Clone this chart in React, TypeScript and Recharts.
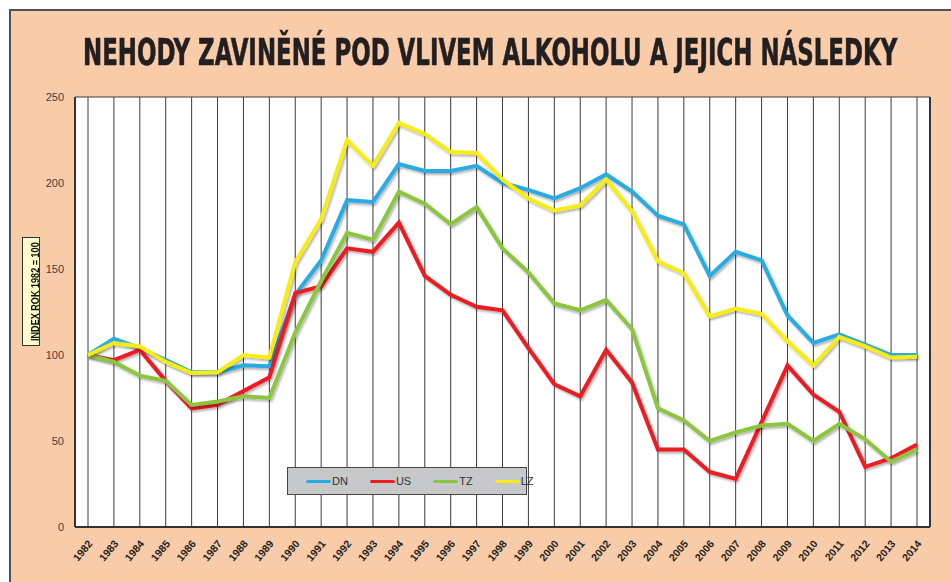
import React, { useLayoutEffect, useRef, useState } from 'react';
import { LineChart, Line, XAxis, YAxis, CartesianGrid } from 'recharts';

const years = [
  '1982', '1983', '1984', '1985', '1986', '1987', '1988', '1989', '1990', '1991', '1992',
  '1993', '1994', '1995', '1996', '1997', '1998', '1999', '2000', '2001', '2002', '2003',
  '2004', '2005', '2006', '2007', '2008', '2009', '2010', '2011', '2012', '2013', '2014',
];
const dn = [100, 109.5, 104, 97, 90, 90, 94, 93.5, 135, 155, 190, 189, 211, 207, 207, 210, 200, 196, 191, 197, 205, 195, 181, 176, 146, 160, 155, 123, 107, 112, 106, 100, 100];
const us = [100, 97, 103, 85, 69, 71, 79, 87, 136, 140, 162, 160, 177, 146, 135, 128, 126, 104, 83, 76, 103, 84, 45, 45, 32, 28, 61, 94, 77, 67, 35, 40, 48];
const tz = [100, 96, 88, 85, 71, 73, 76, 75, 113, 143, 171, 167, 195, 188, 176, 186, 162, 148, 130, 126, 132, 115, 69, 62, 50, 55, 59, 60, 50, 60, 51, 38, 45];
const lz = [100, 107, 105, 96, 89.5, 90, 100, 98.5, 154, 179, 225, 210, 235, 228.5, 218, 217.5, 202, 191, 184, 187, 202, 183.5, 154.5, 147.5, 122.5, 127, 124, 108, 94, 110.5, 105, 98.5, 99];
const yTicks = [0, 50, 100, 150, 200, 250];

const series = [
  { key: 'DN', color: '#29ABE2' },
  { key: 'US', color: '#ED1C24' },
  { key: 'TZ', color: '#8CC63F' },
  { key: 'LZ', color: '#F7EC13' },
];

const data = years.map((year, i) => ({ year, DN: dn[i], US: us[i], TZ: tz[i], LZ: lz[i] }));

const font = "'Liberation Sans', Arial, sans-serif";

// squeezes a line of text horizontally to a given width
const FitText = ({ text, width, style }: { text: string; width: number; style: React.CSSProperties }) => {
  const ref = useRef<HTMLSpanElement>(null);
  const [scale, setScale] = useState(1);
  useLayoutEffect(() => {
    if (ref.current) setScale(width / ref.current.offsetWidth);
  }, [text, width]);
  return (
    <span
      ref={ref}
      style={{ ...style, display: 'inline-block', whiteSpace: 'nowrap', transformOrigin: '0 0', transform: `scaleX(${scale})` }}
    >
      {text}
    </span>
  );
};

const YearTick = (props: any) => {
  const { x, y, payload } = props;
  return (
    <g transform={`translate(${x + 5},${y + 9})`}>
      <text textAnchor="end" transform="rotate(-50)" fontSize={10.5} fontWeight="bold" fill="#231F20" fontFamily={font}>
        {payload.value}
      </text>
    </g>
  );
};

const LegendBox = () => (
  <div
    style={{
      position: 'absolute',
      left: 287,
      top: 467,
      width: 238,
      height: 26,
      background: '#C7C8C9',
      border: '1px solid #444',
      display: 'flex',
      alignItems: 'center',
      fontFamily: font,
      fontSize: 11,
      color: '#333',
    }}
  >
    {series.map((s, i) => (
      <div key={s.key} style={{ display: 'flex', alignItems: 'center', marginLeft: i === 0 ? 18 : 22 }}>
        <span style={{ display: 'inline-block', width: 25, height: 3, background: s.color, borderRadius: 2 }} />
        <span style={{ marginLeft: 1 }}>{s.key}</span>
      </div>
    ))}
  </div>
);

export default function App() {
  return (
    <div style={{ position: 'absolute', left: 0, top: 0, width: 951, height: 582, background: '#fff', overflow: 'hidden' }}>
      <div
        style={{
          position: 'absolute',
          left: 9,
          top: 9,
          width: 950,
          height: 580,
          background: '#F8CBA9',
          borderTop: '2px solid #4B525A',
          borderLeft: '2px solid #4B525A',
        }}
      />
      <div style={{ position: 'absolute', left: 83, top: 31 }}>
        <FitText
          text="NEHODY ZAVINĚNÉ POD VLIVEM ALKOHOLU A JEJICH NÁSLEDKY"
          width={814}
          style={{
            fontFamily: "'DejaVu Sans Condensed', 'Liberation Sans', Arial, sans-serif",
            fontSize: 37,
            lineHeight: '44px',
            fontWeight: 'bold',
            color: '#231F20',
            WebkitTextStroke: '0.6px #231F20',
          }}
        />
      </div>
      <div
        style={{
          position: 'absolute',
          left: 22,
          top: 237,
          width: 16,
          height: 107,
          background: '#FFFFCC',
          border: '1px solid #333',
          overflow: 'hidden',
        }}
      >
        <div style={{ position: 'absolute', left: 2, top: 103, width: 100, height: 12, transformOrigin: '0 0', transform: 'rotate(-90deg)' }}>
          <FitText
            text="INDEX ROK 1982 = 100"
            width={99}
            style={{ fontFamily: font, fontSize: 10, lineHeight: '12px', fontWeight: 'bold', color: '#111' }}
          />
        </div>
      </div>
      <div style={{ position: 'absolute', left: 0, top: 0 }}>
        <LineChart width={951} height={582} data={data} margin={{ top: 97, right: 20, bottom: 0, left: 15 }}>
          <defs>
            <filter id="lineShadow" x="-5%" y="-5%" width="110%" height="115%">
              <feDropShadow dx="1.5" dy="2" stdDeviation="1" floodColor="#000" floodOpacity="0.3" />
            </filter>
          </defs>
          <CartesianGrid fill="#fff" stroke="#3C3C3C" strokeWidth={1} />
          <XAxis
            dataKey="year"
            interval={0}
            padding={{ left: 13, right: 13 }}
            height={55}
            tick={<YearTick />}
            tickLine={false}
            axisLine={{ stroke: '#333', strokeWidth: 2 }}
          />
          <YAxis
            yAxisId="l"
            domain={[0, 250]}
            ticks={yTicks}
            width={60}
            tickSize={0}
            tickMargin={11}
            tickLine={false}
            axisLine={{ stroke: '#333', strokeWidth: 2 }}
            tick={{ fontSize: 11, fill: '#404040', fontFamily: font }}
          />
          <YAxis
            yAxisId="r"
            orientation="right"
            domain={[0, 250]}
            width={1}
            tick={false}
            tickLine={false}
            axisLine={{ stroke: '#333', strokeWidth: 2 }}
          />
          {series.map((s) => (
            <Line
              key={s.key}
              yAxisId="l"
              type="linear"
              dataKey={s.key}
              stroke={s.color}
              strokeWidth={4}
              dot={false}
              activeDot={false}
              filter="url(#lineShadow)"
              isAnimationActive={false}
            />
          ))}
        </LineChart>
      </div>
      <LegendBox />
    </div>
  );
}
